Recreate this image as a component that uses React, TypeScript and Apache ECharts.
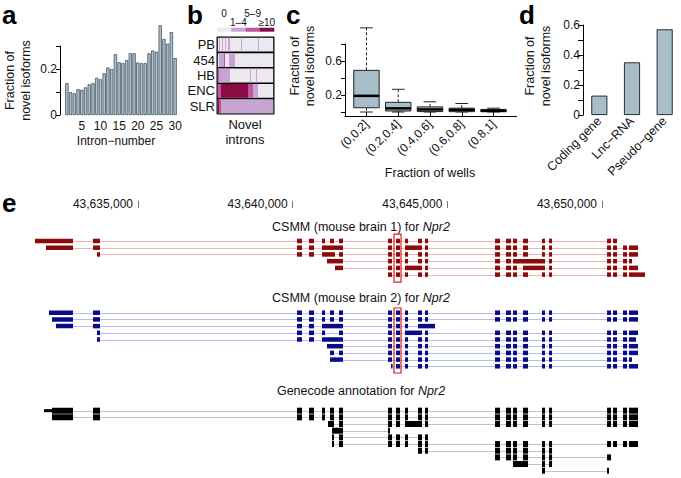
import React, { useEffect, useRef } from 'react';
import * as echarts from 'echarts';

const FONT = '"Liberation Sans", Arial, Helvetica, sans-serif';
const INK = '#111111';

// ---------------- panel a ----------------
const intronNumbers = ['1','2','3','4','5','6','7','8','9','10','11','12','13','14','15','16','17','18','19','20','21','22','23','24','25','26','27','28','29','30'];
const intronNovelFraction = [0.138, 0.099, 0.094, 0.112, 0.109, 0.12, 0.133, 0.138, 0.162, 0.155, 0.181, 0.206, 0.199, 0.264, 0.229, 0.225, 0.238, 0.268, 0.268, 0.228, 0.225, 0.225, 0.268, 0.28, 0.275, 0.39, 0.33, 0.31, 0.36, 0.247];
const intronTickLabels = ['5', '10', '15', '20', '25', '30'];
const aLabelledTicks = [0, 0.2];

// ---------------- panel b ----------------
const platforms = ['PB', '454', 'HB', 'ENC', 'SLR'];
const intronLevelLabels = ['0', '1–4', '5–9', '≥10'];
const intronLevelColors = ['#ece8f0', '#c8a4d2', '#c2569e', '#8b0c44'];
const novelIntronColumns = 57;
// runs of [startColumn, endColumn, level] drawn over a level-0 background
const platformRuns = [
  [[2, 3, 1], [5, 6, 1], [8, 9, 1], [11, 13, 1], [24, 25, 1], [41, 42, 1]],
  [[2, 7, 1], [7, 8, 2], [12, 18, 1]],
  [[0, 2, 2], [2, 13, 1], [33, 34, 1], [39, 40, 1]],
  [[0, 4, 2], [4, 31, 3], [31, 36, 2], [36, 41, 1]],
  [[0, 57, 1], [0, 2, 3], [2, 4, 2]],
];

// ---------------- panel c ----------------
const wellBins = ['(0,0.2]', '(0.2,0.4]', '(0.4,0.6]', '(0.6,0.8]', '(0.8,1]'];
// [min, q1, median, q3, max]
const wellBoxStats = [
  [0, 0.05, 0.19, 0.49, 0.99],
  [0, 0.012, 0.043, 0.114, 0.267],
  [0, 0.005, 0.03, 0.06, 0.12],
  [0, 0.004, 0.025, 0.045, 0.1],
  [0, 0.003, 0.015, 0.03, 0.045],
];
const cLabelledTicks = [0.2, 0.6];

// ---------------- panel d ----------------
const geneTypes = ['Coding gene', 'Lnc−RNA', 'Pseudo−gene'];
const geneNovelFraction = [0.129, 0.351, 0.571];
const dLabelledTicks = [0, 0.2, 0.4, 0.6];

// ---------------- panel e ----------------
const genomeMin = 43635000;
const genomeMax = 43650000;
const genomeStep = 5000;
// exon spans in bp
const exonSpans = [
  [43631670, 43632899], // 0
  [43632026, 43632899], // 1
  [43632123, 43632899], // 2
  [43632220, 43632899], // 3
  [43632349, 43632899], // 4
  [43633545, 43633771], // 5
  [43633674, 43633771], // 6
  [43640140, 43640302], // 7
  [43640528, 43640690], // 8
  [43640949, 43641046], // 9
  [43641207, 43641337], // 10
  [43641498, 43641628], // 11
  [43640949, 43641628], // 12
  [43640949, 43641369], // 13
  [43641110, 43641628], // 14
  [43641369, 43641628], // 15
  [43643083, 43643212], // 16
  [43643341, 43643470], // 17
  [43643632, 43643729], // 18
  [43643632, 43644182], // 19
  [43644052, 43644182], // 20
  [43644279, 43644376], // 21
  [43646542, 43646703], // 22
  [43646897, 43647059], // 23
  [43647124, 43647253], // 24
  [43647447, 43647609], // 25
  [43648061, 43648158], // 26
  [43648288, 43648385], // 27
  [43650163, 43650292], // 28
  [43650357, 43650486], // 29
  [43650680, 43650810], // 30
  [43650874, 43651165], // 31
  [43650874, 43651391], // 32
  [43647124, 43648158], // 33
  [43647447, 43648158], // 34
  [43644052, 43644602], // 35
  [43641207, 43641628], // 36
  [43643180, 43643212], // 37
  [43650874, 43650971], // 38
  [43650874, 43651100], // 39
  [43631961, 43632220], // 40
  [43641143, 43641337], // 41
  [43647124, 43647609], // 42
  [43650163, 43650227], // 43
  [43641272, 43641628], // 44
  [43643083, 43643147], // 45
  [43641272, 43641337], // 46
];
const csmm1Transcripts = [
  [0, 5, 7, 8, 9, 10, 11, 16, 17, 18, 20, 21, 22, 23, 24, 25, 26, 27, 28, 29],
  [1, 5, 7, 8, 12, 16, 17, 19, 21, 22, 23, 24, 25, 26, 27, 28, 29, 30, 31],
  [6, 7, 8, 13, 11, 16, 17, 18, 20, 21, 22, 23, 24, 25, 26, 27, 28, 29, 30, 31],
  [14, 16, 17, 18, 20, 21, 22, 23, 33, 27, 28, 29, 30, 38],
  [15, 16, 17, 19, 21, 22, 23, 24, 34, 27, 28, 29, 30, 31],
  [16, 17, 18, 20, 21, 22, 23, 24, 25, 26, 27, 28, 29, 30, 32],
];
const csmm2Transcripts = [
  [2, 5, 7, 8, 9, 10, 11, 16, 17, 18, 20, 21, 22, 23, 24, 25, 26, 27, 28, 29, 30, 31],
  [3, 5, 7, 8, 9, 10, 11, 16, 17, 18, 20, 21, 22, 23, 24, 25, 26, 27, 28, 29, 30, 31],
  [4, 5, 7, 8, 12, 16, 17, 18, 35],
  [6, 7, 8, 9, 11, 16, 17, 19, 21, 22, 23, 24, 25, 26, 27, 28, 29, 30, 31],
  [6, 7, 8, 12, 16, 17, 18, 20, 21, 22, 23, 24, 25, 26, 27, 28, 29, 30, 39],
  [14, 16, 17, 18, 20, 21, 22, 23, 24, 25, 26, 27, 28, 29, 30, 31],
  [10, 11, 16, 17, 18, 20, 21, 22, 23, 24, 25, 26, 27, 28, 29, 30, 31],
  [36, 16, 17, 18, 20, 21, 22, 23, 24, 25, 26, 27, 28, 29, 30, 38],
  [37, 17, 18, 20, 21, 22, 23, 24, 25, 26, 27, 28, 29, 30, 31],
];
const genecodeTranscripts = [
  [40, 3, 5, 7, 8, 9, 10, 11, 16, 17, 18, 20, 21, 22, 23, 24, 25, 26, 27, 28, 29, 30, 31],
  [3, 5, 7, 8, 9, 10, 11, 16, 17, 18, 20, 21, 22, 23, 24, 25, 26, 27, 28, 29, 30, 31],
  [41, 11, 16, 17, 19, 21, 22, 23, 24, 25, 26, 27, 28, 29, 30, 31],
  [44, 45],
  [46, 11, 16, 17, 18, 20, 21],
  [46, 11, 16, 17, 18, 20, 21, 22, 23, 24, 25, 26, 27, 28, 29, 30, 31],
  [20, 21, 22, 23, 24, 25, 26, 27],
  [22, 23, 24, 25, 26, 27, 28],
  [42, 26, 27],
  [26, 43],
];
const genecodeUtrExons = [40];
const highlightSpan = [43643276, 43643503];

function buildTrack(transcripts: number[][], utr: number[] = []) {
  const lines: number[][] = [];
  const blocks: number[][] = [];
  transcripts.forEach((ex, row) => {
    const spans = ex.map((i) => exonSpans[i]);
    const lo = Math.min(...spans.map((s) => s[0]));
    const hi = Math.max(...spans.map((s) => s[1]));
    lines.push([row, lo, hi, 0]);
    ex.forEach((i) => blocks.push([row, exonSpans[i][0], exonSpans[i][1], utr.includes(i) ? 2 : 1]));
  });
  return lines.concat(blocks);
}

const trackItem = (fill: string, line: string, h: number) => (params: any, api: any) => {
  const row = api.value(0), s = api.value(1), e = api.value(2), kind = api.value(3);
  const a = api.coord([s, row + 0.5]);
  const b = api.coord([e, row + 0.5]);
  if (kind === 0) {
    const y = Math.round(a[1]) + 0.5;
    return { type: 'line', shape: { x1: a[0], y1: y, x2: b[0], y2: y }, style: { stroke: line, lineWidth: 1 } };
  }
  const hh = kind === 2 ? h / 2 : h;
  return { type: 'rect', shape: { x: a[0], y: a[1] - hh / 2, width: Math.max(b[0] - a[0], 1.5), height: hh }, style: { fill } };
};

const highlightItem = (params: any, api: any) => {
  const a = api.coord([api.value(0), api.value(2)]);
  const b = api.coord([api.value(1), api.value(3)]);
  return { type: 'rect', shape: { x: a[0], y: a[1], width: b[0] - a[0], height: b[1] - a[1] }, style: { fill: 'none', stroke: '#e3191c', lineWidth: 1.2 } };
};

const heatItem = (params: any, api: any) => {
  const row = api.value(0), s = api.value(1), e = api.value(2), lvl = api.value(3);
  const a = api.coord([s, row]);
  const b = api.coord([e, row]);
  const bh = api.size([0, 1])[1];
  const cs = params.coordSys;
  const inset = 0.8;
  const x0 = Math.max(a[0], cs.x + inset);
  const x1 = Math.min(b[0], cs.x + cs.width - inset);
  return { type: 'rect', shape: { x: x0, y: a[1] - bh / 2 + inset, width: x1 - x0, height: bh - 2 * inset }, style: { fill: intronLevelColors[lvl] } };
};

const boxItem = (params: any, api: any) => {
  const i = api.value(0);
  const ys = [1, 2, 3, 4, 5].map((k) => api.coord([i, api.value(k)])[1]);
  const x = api.coord([i, 0])[0];
  const bw = api.size([1, 0])[0] * 0.8;
  const [yMin, yQ1, yMed, yQ3, yMax] = ys;
  const stroke = '#222';
  const dash = { stroke, lineWidth: 1, lineDash: [3, 2] };
  return {
    type: 'group',
    children: [
      { type: 'line', shape: { x1: x, y1: yQ3, x2: x, y2: yMax }, style: dash },
      { type: 'line', shape: { x1: x, y1: yQ1, x2: x, y2: yMin }, style: dash },
      { type: 'line', shape: { x1: x - bw / 4, y1: yMax, x2: x + bw / 4, y2: yMax }, style: { stroke, lineWidth: 1 } },
      { type: 'line', shape: { x1: x - bw / 4, y1: yMin, x2: x + bw / 4, y2: yMin }, style: { stroke, lineWidth: 1 } },
      { type: 'rect', shape: { x: x - bw / 2, y: yQ3, width: bw, height: yQ1 - yQ3 }, style: { fill: '#a7bdca', stroke, lineWidth: 1 } },
      { type: 'line', shape: { x1: x - bw / 2, y1: yMed, x2: x + bw / 2, y2: yMed }, style: { stroke: '#000', lineWidth: 2.5 } },
    ],
  };
};

const near = (list: number[], v: number) => list.some((t) => Math.abs(t - v) < 1e-9);
const fmt = (v: number) => (v === 0 ? '0' : String(Number(v.toFixed(1))));
const commas = (v: number) => String(Math.round(v)).replace(/\B(?=(\d{3})+(?!\d))/g, ',');

const txt = (x: number, y: number, text: string, extra: any = {}, rotation = 0) => ({
  type: 'text',
  x,
  y,
  rotation,
  style: { text, fontFamily: FONT, fontSize: 12.5, fill: INK, align: 'center', verticalAlign: 'middle', ...extra },
});

const hidden = { show: false };
const blackLine = { show: true, lineStyle: { color: '#000', width: 1 } };

export default function App() {
  const ref = useRef<HTMLDivElement>(null);
  useEffect(() => {
    document.body.style.margin = '0';
    const chart = echarts.init(ref.current!, null, { renderer: 'svg' });

    const heatData: number[][] = [];
    platforms.forEach((_, r) => heatData.push([r, 0, novelIntronColumns, 0]));
    platformRuns.forEach((runs, r) => runs.forEach((run) => heatData.push([r, run[0], run[1], run[2]])));

    const legendW = 57 / intronLevelColors.length;
    const legendGraphics: any[] = [];
    intronLevelColors.forEach((c, i) => {
      legendGraphics.push({ type: 'rect', shape: { x: 217 + i * legendW, y: 27.7, width: legendW + 0.3, height: 4 }, style: { fill: c } });
      legendGraphics.push(txt(217 + (i + 0.5) * legendW, i % 2 === 0 ? 13 : 22, intronLevelLabels[i], { fontSize: 10 }));
    });

    const italic = { i: { fontStyle: 'italic', fontFamily: FONT, fontSize: 12.5, fill: INK } };
    const letter = { fontSize: 26, fontWeight: 'bold', align: 'left', fill: '#000' };

    const option: any = {
      animation: false,
      textStyle: { fontFamily: FONT, color: INK },
      grid: [
        { left: 65, top: 23, width: 112, height: 92 },
        { left: 60, top: 46, width: 1, height: 69 },
        { left: 217, top: 37, width: 57, height: 77, show: true, backgroundColor: '#000', borderColor: '#000', borderWidth: 1 },
        { left: 350.6, top: 23.6, width: 158.8, height: 92.4 },
        { left: 345, top: 44, width: 1, height: 68 },
        { left: 345, top: 112, width: 171.5, height: 4 },
        { left: 583, top: 25, width: 103, height: 90 },
        { left: 138, top: 207, width: 464, height: 1 },
        { left: 138, top: 237.6, width: 464, height: 40.4 },
        { left: 138, top: 309.35, width: 464, height: 60.3 },
        { left: 138, top: 407.35, width: 464, height: 66.7 },
      ],
      xAxis: [
        {
          gridIndex: 0, type: 'category', data: intronNumbers,
          axisLine: hidden, axisTick: hidden,
          axisLabel: { interval: (_i: number, v: string) => intronTickLabels.includes(v), fontSize: 12, color: INK, margin: 5 },
        },
        { gridIndex: 1, type: 'value', show: false },
        { gridIndex: 2, type: 'value', min: 0, max: novelIntronColumns, show: false },
        {
          gridIndex: 3, type: 'category', data: wellBins,
          axisLine: hidden,
          axisTick: { show: true, alignWithLabel: true, length: 4, lineStyle: { color: '#000' } },
          axisLabel: { rotate: 45, fontSize: 12, color: INK, margin: 6, interval: 0 },
        },
        { gridIndex: 4, type: 'value', show: false },
        { gridIndex: 5, type: 'value', min: 0, max: 1, axisLine: blackLine, axisTick: hidden, axisLabel: hidden, splitLine: hidden },
        {
          gridIndex: 6, type: 'category', data: geneTypes,
          axisLine: hidden, axisTick: hidden,
          axisLabel: { rotate: 45, fontSize: 12.5, color: INK, margin: 4, interval: 0 },
        },
        {
          gridIndex: 7, type: 'value', position: 'top', min: genomeMin, max: genomeMax, interval: genomeStep,
          axisLine: hidden,
          axisTick: { show: true, length: 7, lineStyle: { color: '#777' } },
          axisLabel: {
            formatter: (v: number) => commas(v), align: 'right', verticalAlign: 'middle', margin: 3.5,
            padding: [0, 5, 0, 0], fontSize: 12, color: INK, showMinLabel: true, showMaxLabel: true,
          },
          splitLine: hidden,
        },
        { gridIndex: 8, type: 'value', min: genomeMin, max: genomeMax, show: false },
        { gridIndex: 9, type: 'value', min: genomeMin, max: genomeMax, show: false },
        { gridIndex: 10, type: 'value', min: genomeMin, max: genomeMax, show: false },
      ],
      yAxis: [
        { gridIndex: 0, type: 'value', min: 0, max: 0.4, show: false },
        {
          gridIndex: 1, type: 'value', min: 0, max: 0.3, interval: 0.1,
          axisLine: blackLine, axisTick: { show: true, length: 4, lineStyle: { color: '#000' } },
          axisLabel: { formatter: (v: number) => (near(aLabelledTicks, v) ? fmt(v) : ''), fontSize: 12, color: INK, margin: 3 },
          splitLine: hidden,
        },
        {
          gridIndex: 2, type: 'category', data: platforms, inverse: true,
          axisLine: hidden, axisTick: hidden,
          axisLabel: { fontSize: 13, color: INK, margin: 2, interval: 0 },
        },
        { gridIndex: 3, type: 'value', min: -0.047, max: 1.04, show: false },
        {
          gridIndex: 4, type: 'value', min: 0, max: 0.8, interval: 0.2,
          axisLine: blackLine, axisTick: { show: true, length: 4, lineStyle: { color: '#000' } },
          axisLabel: { formatter: (v: number) => (near(cLabelledTicks, v) ? fmt(v) : ''), fontSize: 12, color: INK, margin: 3 },
          splitLine: hidden,
        },
        { gridIndex: 5, type: 'value', min: 0, max: 1, axisLine: blackLine, axisTick: hidden, axisLabel: hidden, splitLine: hidden },
        {
          gridIndex: 6, type: 'value', min: 0, max: 0.6, interval: 0.1,
          axisLine: blackLine, axisTick: { show: true, length: 5, lineStyle: { color: '#000' } },
          axisLabel: { formatter: (v: number) => (near(dLabelledTicks, v) ? fmt(v) : ''), fontSize: 12, color: INK, margin: 3 },
          splitLine: hidden,
        },
        { gridIndex: 7, type: 'value', show: false },
        { gridIndex: 8, type: 'value', min: 0, max: csmm1Transcripts.length, inverse: true, show: false },
        { gridIndex: 9, type: 'value', min: 0, max: csmm2Transcripts.length, inverse: true, show: false },
        { gridIndex: 10, type: 'value', min: 0, max: genecodeTranscripts.length, inverse: true, show: false },
      ],
      series: [
        {
          type: 'bar', xAxisIndex: 0, yAxisIndex: 0, data: intronNovelFraction, barCategoryGap: '14%',
          itemStyle: { color: '#a9bfcb', borderColor: '#1f2c35', borderWidth: 0.6 },
        },
        {
          type: 'custom', xAxisIndex: 2, yAxisIndex: 2, renderItem: heatItem, data: heatData,
          encode: { x: [1, 2], y: 0 },
        },
        {
          type: 'custom', xAxisIndex: 3, yAxisIndex: 3, renderItem: boxItem,
          data: wellBoxStats.map((s, i) => [i, ...s]), encode: { x: 0, y: [1, 2, 3, 4, 5] },
        },
        {
          type: 'bar', xAxisIndex: 6, yAxisIndex: 6, data: geneNovelFraction, barWidth: 16,
          itemStyle: { color: '#a7bdca', borderColor: '#000', borderWidth: 0.8 },
        },
        {
          type: 'custom', xAxisIndex: 8, yAxisIndex: 8, renderItem: trackItem('#8b0a0a', '#f2b4b4', 4.5),
          data: buildTrack(csmm1Transcripts), encode: { x: [1, 2], y: 0 },
        },
        {
          type: 'custom', xAxisIndex: 9, yAxisIndex: 9, renderItem: trackItem('#0b0b8a', '#b8bef0', 4.5),
          data: buildTrack(csmm2Transcripts), encode: { x: [1, 2], y: 0 },
        },
        {
          type: 'custom', xAxisIndex: 10, yAxisIndex: 10, renderItem: trackItem('#000000', '#c4c4c4', 6),
          data: buildTrack(genecodeTranscripts, genecodeUtrExons), encode: { x: [1, 2], y: 0 },
        },
        {
          type: 'custom', xAxisIndex: 8, yAxisIndex: 8, renderItem: highlightItem, z: 5,
          data: [[highlightSpan[0], highlightSpan[1], -0.53, csmm1Transcripts.length + 0.6]], encode: { x: [0, 1], y: [2, 3] },
        },
        {
          type: 'custom', xAxisIndex: 9, yAxisIndex: 9, renderItem: highlightItem, z: 5,
          data: [[highlightSpan[0], highlightSpan[1], -0.2, csmm2Transcripts.length + 0.5]], encode: { x: [0, 1], y: [2, 3] },
        },
      ],
      graphic: [
        txt(2, 14.5, 'a', letter),
        txt(187, 14.5, 'b', letter),
        txt(286, 14.5, 'c', letter),
        txt(519, 14.5, 'd', letter),
        txt(2, 203, 'e', letter),
        txt(17.5, 80.5, 'Fraction of\nnovel isoforms', { lineHeight: 16 }, Math.PI / 2),
        txt(302.5, 66, 'Fraction of\nnovel isoforms', { lineHeight: 15 }, Math.PI / 2),
        txt(538, 66, 'Fraction of\nnovel isoforms', { lineHeight: 16 }, Math.PI / 2),
        txt(116, 140.5, 'Intron−number', { fontSize: 12 }),
        txt(245, 132, 'Novel\nintrons', { fontSize: 13, lineHeight: 15 }),
        txt(430, 172.5, 'Fraction of wells'),
        ...legendGraphics,
        txt(361, 227, 'CSMM (mouse brain 1) for {i|Npr2}', { rich: italic }),
        txt(361, 298, 'CSMM (mouse brain 2) for {i|Npr2}', { rich: italic }),
        txt(361, 390.5, 'Genecode annotation for {i|Npr2}', { rich: italic }),
      ],
    };
    chart.setOption(option);
    return () => chart.dispose();
  }, []);
  return <div ref={ref} style={{ width: 681, height: 478 }} />;
}
